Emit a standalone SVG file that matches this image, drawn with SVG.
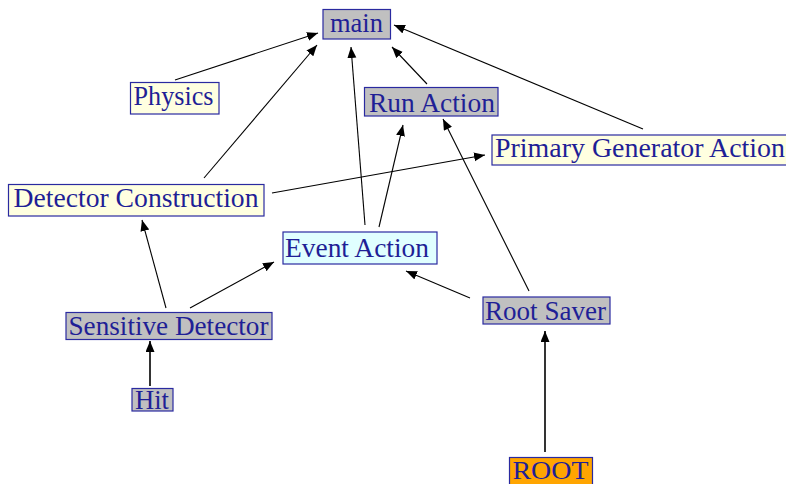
<svg xmlns="http://www.w3.org/2000/svg" width="786" height="484" viewBox="0 0 786 484">
<defs>
<style>
.box{stroke:#2a2aa0;stroke-width:1.2}
.gray{fill:#c0c0c0}
.yel{fill:#ffffe0}
.cyan{fill:#e0ffff}
.org{fill:#ffa500}
text{font-family:"Liberation Serif","Times New Roman",serif;font-size:27px;fill:#1f1f96;text-anchor:middle}
.edge{stroke:#000;stroke-width:1.1;fill:none;marker-end:url(#arr)}
.thick{stroke-width:1.6}
</style>
<marker id="arr" markerUnits="userSpaceOnUse" markerWidth="12" markerHeight="10" refX="11" refY="4.5" orient="auto">
<path d="M0,0 L11,4.5 L0,9 z" fill="#000"/>
</marker>
</defs>
<rect width="786" height="484" fill="#fff"/>
<g id="connectors">
<line class="edge" x1="175" y1="80" x2="318" y2="33"/>
<line class="edge" x1="204" y1="178" x2="317" y2="45"/>
<line class="edge" x1="365" y1="225" x2="351" y2="47"/>
<line class="edge" x1="427" y1="84" x2="392" y2="47"/>
<line class="edge" x1="643" y1="129" x2="394" y2="25"/>
<line class="edge" x1="379" y1="227" x2="403" y2="125"/>
<line class="edge" x1="529" y1="291" x2="443" y2="119"/>
<line class="edge" x1="272" y1="193" x2="485" y2="155"/>
<line class="edge" x1="166" y1="308" x2="142" y2="220"/>
<line class="edge" x1="190" y1="308" x2="274" y2="262"/>
<line class="edge" x1="470" y1="298" x2="406" y2="271"/>
<line class="edge thick" x1="150" y1="386" x2="150" y2="341"/>
<line class="edge thick" x1="545" y1="452" x2="545" y2="331"/>
</g>
<g id="main"><rect class="box gray" x="323" y="9.5" width="67.5" height="29.5"/><text x="356.5" y="31.5" textLength="53" lengthAdjust="spacingAndGlyphs">main</text></g>
<g id="run-action"><rect class="box gray" x="364.5" y="87.5" width="133.5" height="28.5"/><text x="432" y="111.5" textLength="126" lengthAdjust="spacingAndGlyphs">Run Action</text></g>
<g id="physics"><rect class="box yel" x="130.5" y="82.5" width="88.5" height="31.5"/><text x="173.5" y="105" textLength="80" lengthAdjust="spacingAndGlyphs">Physics</text></g>
<g id="primary-generator-action"><rect class="box yel" x="492" y="135" width="297" height="30"/><text x="640" y="157" textLength="290" lengthAdjust="spacingAndGlyphs">Primary Generator Action</text></g>
<g id="detector-construction"><rect class="box yel" x="8.5" y="184.5" width="255.5" height="31.5"/><text x="136" y="207" textLength="245" lengthAdjust="spacingAndGlyphs">Detector Construction</text></g>
<g id="event-action"><rect class="box cyan" x="283" y="232" width="154" height="32"/><text x="357" y="256.5" textLength="144" lengthAdjust="spacingAndGlyphs">Event Action</text></g>
<g id="sensitive-detector"><rect class="box gray" x="66" y="312.5" width="206" height="27"/><text x="168.5" y="335" textLength="200" lengthAdjust="spacingAndGlyphs">Sensitive Detector</text></g>
<g id="hit"><rect class="box gray" x="132" y="388.5" width="41" height="22.5"/><text x="152" y="409" textLength="34" lengthAdjust="spacingAndGlyphs">Hit</text></g>
<g id="root-saver"><rect class="box gray" x="483" y="297" width="127" height="27"/><text x="545.5" y="319.5" textLength="121" lengthAdjust="spacingAndGlyphs">Root Saver</text></g>
<g id="root"><rect class="box org" x="509.5" y="457.5" width="83" height="30"/><text x="550.5" y="478.5" style="font-size:25px" textLength="76" lengthAdjust="spacingAndGlyphs">ROOT</text></g>
</svg>
